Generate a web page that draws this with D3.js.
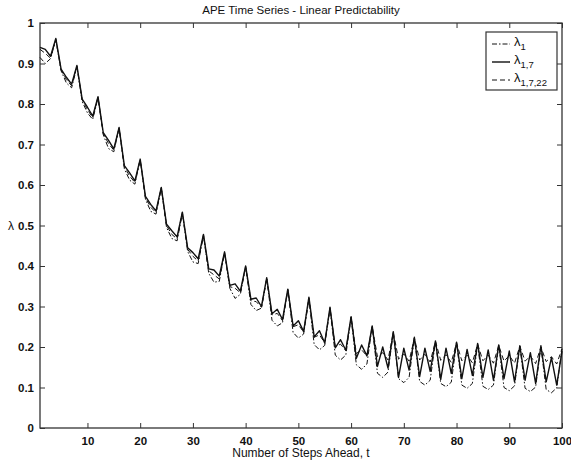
<!DOCTYPE html>
<html><head><meta charset="utf-8">
<script src="https://cdn.jsdelivr.net/npm/d3@7"></script>
<style>body{margin:0;background:#fff}svg{display:block}text{font-family:"Liberation Sans",Arial,sans-serif;fill:#111}</style>
</head><body>
<script>
const steps = d3.range(1, 101);
const lam1 = [0.915,0.900,0.912,0.958, 0.882,0.852,0.840,0.892, 0.806,0.778,0.762,0.815, 0.724,0.690,0.682,0.740,
0.640,0.612,0.602,0.662, 0.565,0.535,0.528,0.592, 0.495,0.468,0.462,0.530, 0.436,0.410,0.406,0.475,
0.382,0.360,0.362,0.432, 0.345,0.320,0.330,0.398, 0.305,0.290,0.296,0.368, 0.266,0.252,0.260,0.340,
0.236,0.222,0.232,0.318, 0.206,0.193,0.204,0.295, 0.180,0.168,0.180,0.272, 0.156,0.145,0.158,0.250,
0.135,0.125,0.138,0.235, 0.122,0.112,0.125,0.222, 0.115,0.106,0.118,0.214, 0.110,0.102,0.113,0.210,
0.106,0.098,0.110,0.206, 0.103,0.095,0.106,0.204, 0.100,0.092,0.104,0.202, 0.098,0.090,0.101,0.200,
0.095,0.087,0.099,0.196];
const lam17 = [0.940,0.935,0.918,0.962, 0.886,0.866,0.849,0.895, 0.812,0.792,0.770,0.818, 0.729,0.710,0.689,0.742,
0.648,0.630,0.610,0.664, 0.572,0.552,0.536,0.594, 0.503,0.487,0.472,0.533, 0.445,0.433,0.418,0.478,
0.393,0.390,0.375,0.435, 0.352,0.356,0.338,0.400, 0.318,0.321,0.300,0.371, 0.282,0.293,0.268,0.343,
0.252,0.265,0.238,0.323, 0.225,0.240,0.210,0.298, 0.198,0.218,0.192,0.275, 0.172,0.205,0.178,0.252,
0.152,0.200,0.148,0.238, 0.125,0.197,0.143,0.224, 0.127,0.197,0.140,0.215, 0.120,0.197,0.135,0.212,
0.122,0.194,0.130,0.209, 0.125,0.193,0.118,0.205, 0.122,0.190,0.114,0.203, 0.118,0.186,0.110,0.203,
0.114,0.174,0.106,0.190];
const lam1722 = [0.935,0.925,0.913,0.960, 0.884,0.860,0.845,0.894, 0.810,0.786,0.766,0.817, 0.727,0.702,0.686,0.741,
0.645,0.622,0.606,0.663, 0.569,0.545,0.532,0.593, 0.500,0.478,0.467,0.532, 0.441,0.424,0.412,0.477,
0.388,0.378,0.368,0.434, 0.349,0.345,0.334,0.399, 0.314,0.312,0.298,0.370, 0.279,0.283,0.265,0.342,
0.250,0.255,0.237,0.321, 0.224,0.230,0.210,0.297, 0.200,0.207,0.191,0.274, 0.184,0.193,0.178,0.251,
0.176,0.186,0.168,0.236, 0.170,0.183,0.165,0.222, 0.168,0.182,0.163,0.214, 0.167,0.181,0.162,0.210,
0.166,0.180,0.161,0.207, 0.166,0.180,0.160,0.204, 0.165,0.179,0.160,0.202, 0.165,0.178,0.159,0.200,
0.164,0.176,0.158,0.196];
const xTicks = [10,20,30,40,50,60,70,80,90,100];
const yTicks = [0,0.1,0.2,0.3,0.4,0.5,0.6,0.7,0.8,0.9,1];
const seriesNames = ["1", "1,7", "1,7,22"];

const W = 571, H = 462;
const L = 40, R = 562, T = 23, B = 428;
const svg = d3.select("body").append("svg").attr("width", W).attr("height", H);
const x = d3.scaleLinear().domain([1, 100]).range([L, R]);
const y = d3.scaleLinear().domain([0, 1]).range([B, T]);

const axisColor = "#333";
svg.append("rect").attr("x", L).attr("y", T).attr("width", R - L).attr("height", B - T)
  .attr("fill", "none").attr("stroke", axisColor).attr("stroke-width", 1.3);

const tl = 5;
const gx = svg.append("g").attr("transform", `translate(0,${B})`)
  .call(d3.axisBottom(x).tickValues(xTicks).tickSizeInner(-tl).tickSizeOuter(0).tickPadding(9));
const gxt = svg.append("g").attr("transform", `translate(0,${T})`)
  .call(d3.axisTop(x).tickValues(xTicks).tickSizeInner(-tl).tickSizeOuter(0).tickFormat(""));
const gy = svg.append("g").attr("transform", `translate(${L},0)`)
  .call(d3.axisLeft(y).tickValues(yTicks).tickSizeInner(-tl).tickSizeOuter(0).tickPadding(6).tickFormat(d3.format("")));
const gyr = svg.append("g").attr("transform", `translate(${R},0)`)
  .call(d3.axisRight(y).tickValues(yTicks).tickSizeInner(-tl).tickSizeOuter(0).tickFormat(""));
[gx, gxt, gy, gyr].forEach(g => {
  g.select(".domain").remove();
  g.selectAll(".tick line").attr("stroke", axisColor).attr("stroke-width", 1);
  g.selectAll(".tick text").attr("font-size", 11.5).attr("font-weight", "bold").attr("fill", "#111")
   .attr("font-family", '"Liberation Sans",Arial,sans-serif');
});

const line = d3.line().x((d, i) => x(steps[i])).y(d => y(d));
const styles = [
  {data: lam1, dash: "5,2,1.5,2", w: 1.0},
  {data: lam17, dash: null, w: 1.4},
  {data: lam1722, dash: "5,3", w: 1.0}
];
styles.forEach(s => {
  svg.append("path").datum(s.data).attr("d", line).attr("fill", "none")
    .attr("stroke", "#111").attr("stroke-width", s.w).attr("stroke-dasharray", s.dash)
    .attr("stroke-linejoin", "round");
});

svg.append("text").attr("x", (L + R) / 2).attr("y", 14).attr("text-anchor", "middle")
  .attr("font-size", 11.5).text("APE Time Series - Linear Predictability");
svg.append("text").attr("x", (L + R) / 2).attr("y", 457).attr("text-anchor", "middle")
  .attr("font-size", 12).text("Number of Steps Ahead, t");
svg.append("text").attr("x", 11).attr("y", y(0.5) + 4).attr("text-anchor", "middle")
  .attr("font-size", 12).text("λ");

const lg = svg.append("g");
lg.append("rect").attr("x", 486).attr("y", 32).attr("width", 71).attr("height", 58)
  .attr("fill", "#fff").attr("stroke", axisColor).attr("stroke-width", 1.2);
const legY = [44, 62, 80];
styles.forEach((s, i) => {
  lg.append("line").attr("x1", 492).attr("x2", 510).attr("y1", legY[i]).attr("y2", legY[i])
    .attr("stroke", "#111").attr("stroke-width", s.w).attr("stroke-dasharray", s.dash);
  const t = lg.append("text").attr("x", 514).attr("y", legY[i] + 2).attr("font-size", 13);
  t.append("tspan").text("λ");
  t.append("tspan").attr("dy", 4).attr("font-size", 9.5).text(seriesNames[i]);
});
</script>
</body></html>
